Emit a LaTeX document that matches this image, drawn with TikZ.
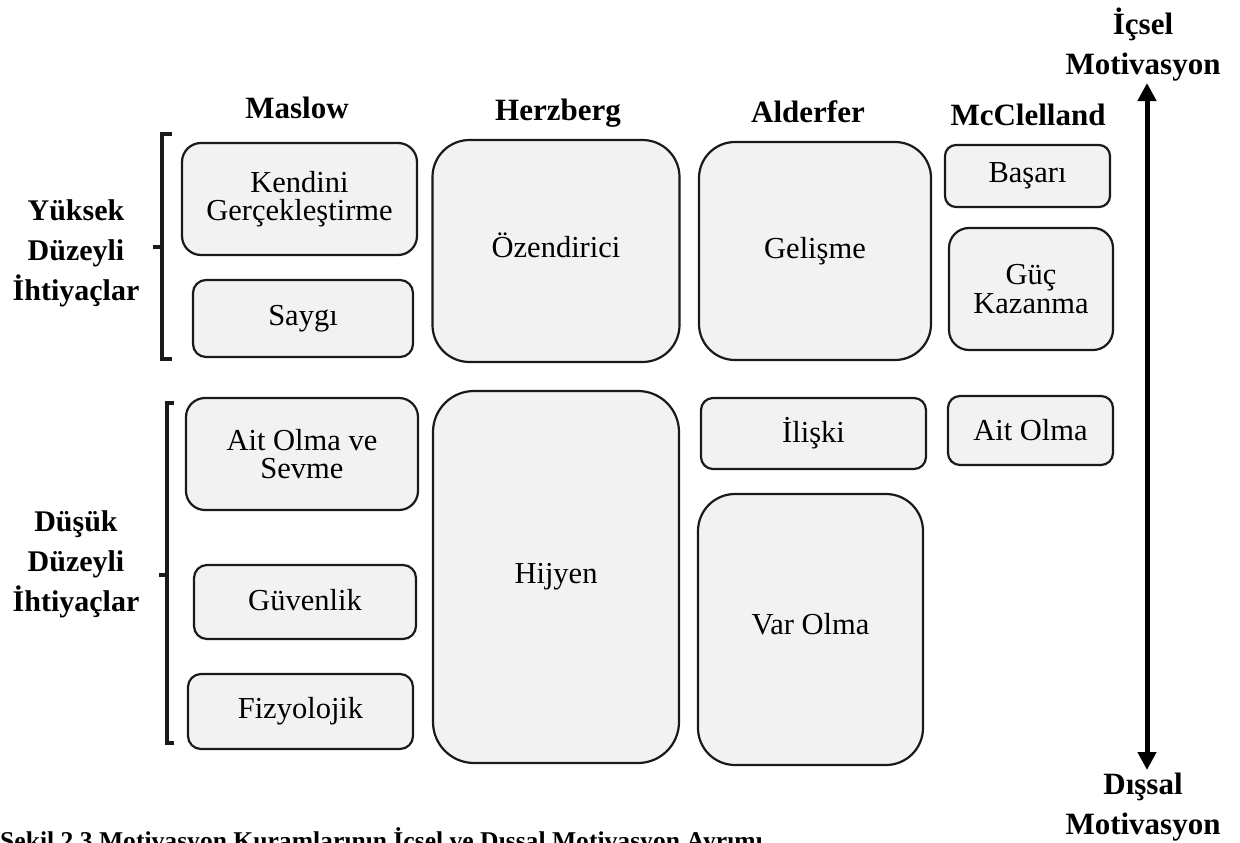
\documentclass[tikz,border=0pt]{standalone}
\usepackage{fontspec}
\setmainfont{Liberation Serif}
\usetikzlibrary{arrows.meta}
\definecolor{boxfill}{HTML}{F2F2F2}
\definecolor{ink}{HTML}{1A1A1A}
\tikzset{
  box/.style={draw=ink, line width=2.2pt, fill=boxfill, align=center, inner sep=0pt,
    font=\fontsize{30.5}{28.5}\selectfont},
  head/.style={font=\fontsize{31}{40}\selectfont\bfseries, inner sep=0pt, anchor=base},
  side/.style={font=\fontsize{30}{40}\selectfont\bfseries, inner sep=0pt, align=center},
  axislabel/.style={font=\fontsize{31}{40}\selectfont\bfseries, inner sep=0pt, align=center},
  brack/.style={draw=ink, line width=4pt},
  bigarrow/.style={draw=black, line width=5pt, {Triangle[width=18pt,length=18pt]}-{Triangle[width=18pt,length=18pt]}},
  caption/.style={font=\fontsize{25.6}{30}\selectfont\bfseries, inner sep=0pt, anchor=base west}
}
% single-line box: name, cx, cy, w, h, r, text, raise
\newcommand{\rboxone}[8]{%
  \node[box, minimum width=#4pt, minimum height=#5pt, rounded corners=#6pt] (#1) at (#2,#3) {\raisebox{#8pt}{#7}};}
% multi-line box: name, cx, cy, w, h, r, text
\newcommand{\rboxtwo}[7]{%
  \node[box, minimum width=#4pt, minimum height=#5pt, rounded corners=#6pt] (#1) at (#2,#3) {#7};}
\begin{document}
\begin{tikzpicture}[x=1pt,y=-1pt]
\useasboundingbox (0,0) rectangle (1240,843);
\clip (0,0) rectangle (1240,843);
% headers
\node[head] (hmaslow) at (297,118) {Maslow};
\node[head] (hherz) at (558,120) {Herzberg};
\node[head] (halder) at (808,122) {Alderfer};
\node[head] (hmcc) at (1028,125) {McClelland};
% Maslow
\rboxtwo{kendini}{299.5}{199}{235}{112}{19}{Kendini\\Gerçekleştirme}
\rboxone{saygi}{303}{318.5}{220}{77}{13}{Saygı}{0}
\rboxtwo{ait}{302}{454}{232}{112}{19}{Ait Olma ve\\Sevme}
\rboxone{guven}{305}{602}{222}{74}{13}{Güvenlik}{5}
\rboxone{fizyo}{300.5}{711.5}{225}{75}{13}{Fizyolojik}{1}
% Herzberg
\rboxone{ozend}{556}{251}{247}{222}{37}{Özendirici}{11}
\rboxone{hijyen}{556}{577}{246}{372}{41}{Hijyen}{2}
% Alderfer
\rboxone{gelisme}{815}{251}{232}{218}{36}{Gelişme}{6}
\rboxone{iliski}{813.5}{433.5}{225}{71}{12}{İlişki}{3}
\rboxone{varolma}{810.5}{629.5}{225}{271}{37}{Var Olma}{12}
% McClelland
\rboxone{basari}{1027.5}{176}{165}{62}{11}{Başarı}{0}
\rboxtwo{guc}{1031}{289}{164}{122}{20}{Güç\\Kazanma}
\rboxone{aitolma}{1030.5}{430.5}{165}{69}{12}{Ait Olma}{1}
% left labels
\node[side] (yuksek) at (76,253) {Yüksek\\Düzeyli\\İhtiyaçlar};
\node[side] (dusuk) at (76,564) {Düşük\\Düzeyli\\İhtiyaçlar};
% brackets
\draw[brack] (172,134) -- (162,134) -- (162,359) -- (172,359);
\draw[brack] (162,247) -- (153,247);
\draw[brack] (174,403) -- (167,403) -- (167,743) -- (174,743);
\draw[brack] (167,575) -- (159,575);
% right axis
\node[axislabel] (icsel) at (1143,45) {İçsel\\Motivasyon};
\node[axislabel] (dissal) at (1143,807) {Dışsal\\Motivasyon};
\coordinate (atop) at (1147,83);
\coordinate (abot) at (1147,770);
\draw[bigarrow] (abot) -- (atop);
% caption (cut by page edge)
\node[caption] (cap) at (0,849) {Şekil 2.3 Motivasyon Kuramlarının İçsel ve Dışsal Motivasyon Ayrımı};
\end{tikzpicture}
\end{document}
